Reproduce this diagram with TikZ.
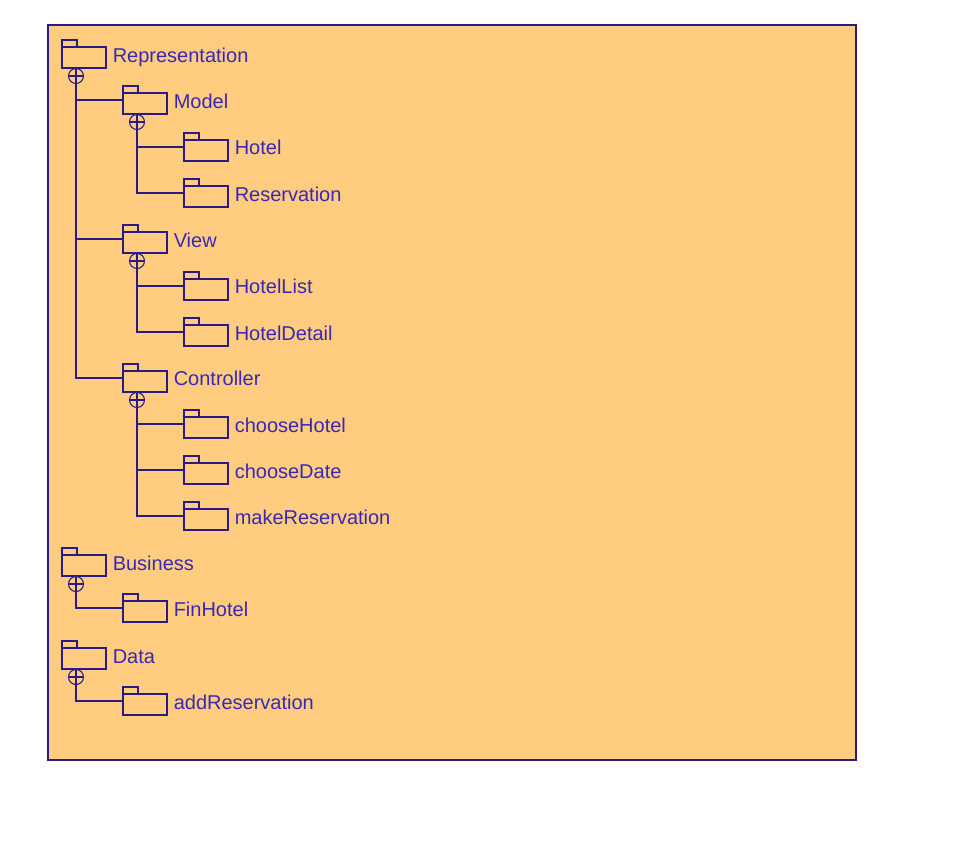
\documentclass[tikz,border=0pt]{standalone}
\usepackage{fontspec}
\setmainfont{Liberation Sans}
\definecolor{umlline}{HTML}{2A1A86}
\definecolor{umltext}{HTML}{3A28B4}
\definecolor{umlfill}{HTML}{FFCC80}
\tikzset{
  umlpen/.style={draw=umlline,line width=0.8pt},
  frame/.style={umlpen,fill=umlfill,outer sep=0pt},
  folderbody/.style={umlpen,fill=umlfill,inner sep=0pt,outer sep=0pt,minimum width=33pt,minimum height=15.75pt},
  foldertab/.style={umlpen,fill=umlfill,inner sep=0pt,outer sep=0pt,minimum width=11.25pt,minimum height=5.25pt,anchor=south west},
  folderlabel/.style={text=umltext,font=\fontsize{15}{18}\selectfont,inner sep=0pt,anchor=base west},
  nest/.style={umlpen,fill=umlfill,circle,inner sep=0pt,outer sep=0pt,minimum size=11.25pt,
    path picture={\draw[umlline,line width=0.8pt]
      (path picture bounding box.west)--(path picture bounding box.east)
      (path picture bounding box.north)--(path picture bounding box.south);}},
  link/.style={umlpen}
}
\newcommand{\pkg}[5][0]{%
  \node[folderbody] (#2) at (#3+22,#4+10.5) {};
  \node[foldertab] (#2-tab) at (#2.north west) {};
  \coordinate (#2-in) at (#3,#4+7);
  \node[folderlabel] (#2-label) at (#3+50.5,#4+15+#1) {#5};
}
\newcommand{\nestmark}[3]{\node[nest] (#1-c) at (#2+14,#3+29) {};}
\begin{document}
\begin{tikzpicture}[x=0.75pt,y=-0.75pt]
\useasboundingbox (0,0) rectangle (960,858);
\fill[white] (0,0) rectangle (960,858);
\node[frame,inner sep=0pt,minimum width=606pt,minimum height=551.25pt,anchor=north west] (frame) at (48,25) {};
\pkg{rep}{62}{47}{Representation}
\pkg{model}{123}{93}{Model}
\pkg[-0.7]{hotel}{184}{140}{Hotel}
\pkg{reserv}{184}{186}{Reservation}
\pkg{view}{123}{232}{View}
\pkg[-0.7]{hlist}{184}{279}{HotelList}
\pkg{hdetail}{184}{325}{HotelDetail}
\pkg[-0.7]{ctrl}{123}{371}{Controller}
\pkg{chotel}{184}{417}{chooseHotel}
\pkg{cdate}{184}{463}{chooseDate}
\pkg{mres}{184}{509}{makeReservation}
\pkg{bus}{62}{555}{Business}
\pkg{fin}{123}{601}{FinHotel}
\pkg{data}{62}{648}{Data}
\pkg{addr}{123}{694}{addReservation}
\nestmark{rep}{62}{47}
\nestmark{model}{123}{93}
\nestmark{view}{123}{232}
\nestmark{ctrl}{123}{371}
\nestmark{bus}{62}{555}
\nestmark{data}{62}{648}
\draw[link] (rep-c.south) |- (model-in);
\draw[link] (rep-c.south) |- (view-in);
\draw[link] (rep-c.south) |- (ctrl-in);
\draw[link] (model-c.south) |- (hotel-in);
\draw[link] (model-c.south) |- (reserv-in);
\draw[link] (view-c.south) |- (hlist-in);
\draw[link] (view-c.south) |- (hdetail-in);
\draw[link] (ctrl-c.south) |- (chotel-in);
\draw[link] (ctrl-c.south) |- (cdate-in);
\draw[link] (ctrl-c.south) |- (mres-in);
\draw[link] (bus-c.south) |- (fin-in);
\draw[link] (data-c.south) |- (addr-in);
\end{tikzpicture}
\end{document}
